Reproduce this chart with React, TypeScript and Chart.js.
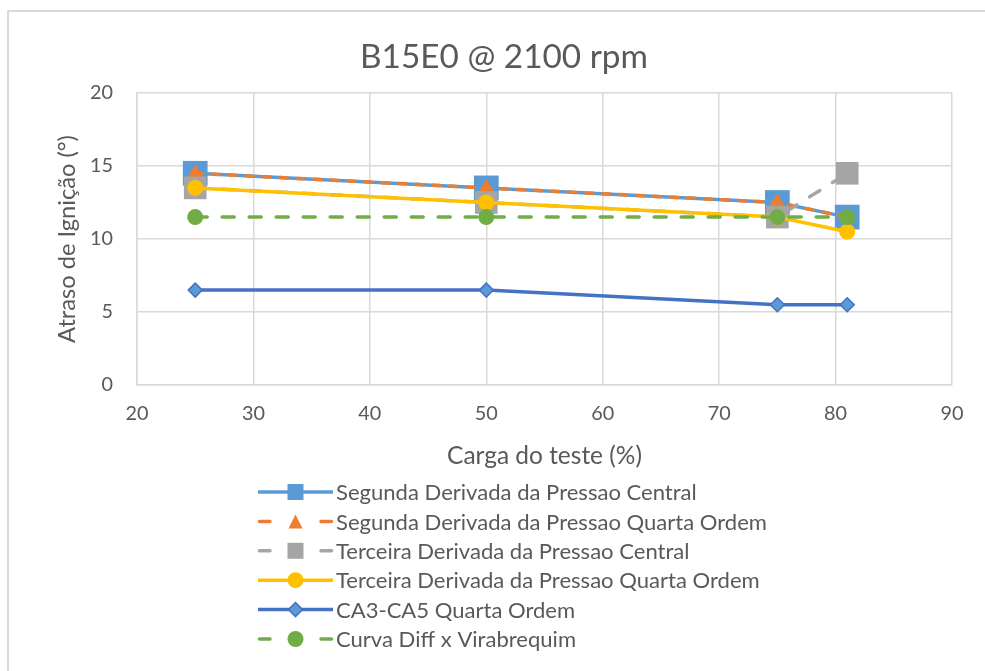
import React, { useEffect, useRef } from 'react';
import { Chart, registerables } from 'chart.js';

Chart.register(...registerables);

// ---------- data ----------
const loads = [25, 50, 75, 81];
const segundaCentral = [14.5, 13.5, 12.5, 11.5];
const segundaQuarta = [14.5, 13.5, 12.5, 11.5];
const terceiraCentral = [13.5, 12.5, 11.5, 14.5];
const terceiraQuarta = [13.5, 12.5, 11.5, 10.5];
const ca3ca5Quarta = [6.5, 6.5, 5.5, 5.5];
const curvaDiff = [11.5, 11.5, 11.5, 11.5];

const seriesNames = [
  'Segunda Derivada da Pressao Central',
  'Segunda Derivada da Pressao Quarta Ordem',
  'Terceira Derivada da Pressao Central',
  'Terceira Derivada da Pressao Quarta Ordem',
  'CA3-CA5 Quarta Ordem',
  'Curva Diff x Virabrequim',
];

const xMin = 20;
const xMax = 90;
const xStep = 10;
const yMin = 0;
const yMax = 20;
const yStep = 5;

const chartTitle = 'B15E0 @ 2100 rpm';
const xTitle = 'Carga do teste (%)';
const yTitle = 'Atraso de Ignição (°)';

const FAMILY = 'Lato, "Open Sans", sans-serif';
const TEXT = '#595959';
const GRID = '#d9d9d9';

function fitSize(text: string, target: number): number {
  const c = document.createElement('canvas').getContext('2d')!;
  c.font = `100px ${FAMILY}`;
  const w = c.measureText(text).width;
  return (100 * target) / w;
}

type Style = {
  color: string;
  pointFill: string;
  pointBorder: string;
  dash: number[];
  style: string;
  radius: number;
  legendSize: number;
};

const styles: Style[] = [
  { color: '#5B9BD5', pointFill: '#5B9BD5', pointBorder: '#5B9BD5', dash: [], style: 'rect', radius: 17.5, legendSize: 16 },
  { color: '#ED7D31', pointFill: '#ED7D31', pointBorder: '#ED7D31', dash: [7, 10], style: 'triangle', radius: 9, legendSize: 14 },
  { color: '#A5A5A5', pointFill: '#A5A5A5', pointBorder: '#A5A5A5', dash: [12, 15], style: 'rect', radius: 16, legendSize: 16 },
  { color: '#FFC000', pointFill: '#FFC000', pointBorder: '#FFC000', dash: [], style: 'circle', radius: 8, legendSize: 16 },
  { color: '#4472C4', pointFill: '#5B9BD5', pointBorder: '#4472C4', dash: [], style: 'rectRot', radius: 7, legendSize: 14 },
  { color: '#70AD47', pointFill: '#70AD47', pointBorder: '#70AD47', dash: [12, 15], style: 'circle', radius: 8, legendSize: 16 },
];

const seriesValues = [segundaCentral, segundaQuarta, terceiraCentral, terceiraQuarta, ca3ca5Quarta, curvaDiff];

function drawMarker(ctx: CanvasRenderingContext2D, shape: string, x: number, y: number, size: number) {
  ctx.beginPath();
  const h = size / 2;
  if (shape === 'rect') {
    ctx.rect(x - h, y - h, size, size);
  } else if (shape === 'triangle') {
    ctx.moveTo(x, y - h);
    ctx.lineTo(x + h, y + h);
    ctx.lineTo(x - h, y + h);
    ctx.closePath();
  } else if (shape === 'circle') {
    ctx.arc(x, y, h, 0, Math.PI * 2);
  } else if (shape === 'rectRot') {
    ctx.moveTo(x, y - h);
    ctx.lineTo(x + h, y);
    ctx.lineTo(x, y + h);
    ctx.lineTo(x - h, y);
    ctx.closePath();
  }
  ctx.fill();
}

export default function App() {
  const ref = useRef<HTMLCanvasElement>(null);

  useEffect(() => {
    const canvas = ref.current!;
    const titleSize = fitSize(chartTitle, 288);
    const legendSize = fitSize(seriesNames[0], 361);
    const xTitleSize = fitSize(xTitle, 195);
    const yTitleSize = fitSize(yTitle, 208);
    const tickSize = fitSize('20', 23);

    const decorPlugin = {
      id: 'decor',
      afterDraw(chart: any) {
        const ctx: CanvasRenderingContext2D = chart.ctx;
        const area = chart.chartArea;
        ctx.save();
        ctx.fillStyle = TEXT;
        ctx.textBaseline = 'middle';
        ctx.textAlign = 'center';
        ctx.font = `${titleSize}px ${FAMILY}`;
        ctx.fillText(chartTitle, 504, 57);
        ctx.font = `${xTitleSize}px ${FAMILY}`;
        ctx.fillText(xTitle, (area.left + area.right) / 2, 456);
        ctx.save();
        ctx.translate(67, (area.top + area.bottom) / 2);
        ctx.rotate(-Math.PI / 2);
        ctx.font = `${yTitleSize}px ${FAMILY}`;
        ctx.fillText(yTitle, 0, 0);
        ctx.restore();

        // legend
        const lx0 = 258;
        const lx1 = 333;
        const mid = (lx0 + lx1) / 2;
        ctx.textAlign = 'left';
        ctx.font = `${legendSize}px ${FAMILY}`;
        seriesNames.forEach((name, i) => {
          const st = styles[i];
          const y = 492 + i * 29.4;
          ctx.strokeStyle = st.color;
          ctx.lineWidth = 3.5;
          ctx.lineCap = st.dash.length ? 'round' : 'butt';
          ctx.beginPath();
          if (st.dash.length) {
            ctx.moveTo(lx0 + 1.5, y);
            ctx.lineTo(lx0 + 12, y);
            ctx.moveTo(lx1 - 12, y);
            ctx.lineTo(lx1 - 1.5, y);
          } else {
            ctx.moveTo(lx0, y);
            ctx.lineTo(lx1, y);
          }
          ctx.stroke();
          ctx.fillStyle = st.pointFill;
          drawMarker(ctx, st.style, mid, y, st.legendSize);
          if (st.style === 'rectRot') {
            ctx.strokeStyle = st.pointBorder;
            ctx.lineWidth = 1.5;
            ctx.stroke();
          }
          ctx.fillStyle = TEXT;
          ctx.fillText(name, 336, y + 1);
        });
        ctx.restore();
      },
    };

    const datasets = seriesValues.map((vals, i) => {
      const st = styles[i];
      return {
        label: seriesNames[i],
        data: loads.map((x, j) => ({ x, y: vals[j] })),
        borderColor: st.color,
        backgroundColor: st.pointFill,
        borderWidth: 3.5,
        borderDash: st.dash,
        borderCapStyle: st.dash.length ? 'round' : 'butt',
        pointStyle: st.style,
        pointRadius: st.radius,
        pointHoverRadius: st.radius,
        pointBackgroundColor: st.pointFill,
        pointBorderColor: st.pointBorder,
        pointBorderWidth: st.style === 'rectRot' ? 1.5 : 0,
        tension: 0,
        fill: false,
        order: seriesNames.length - i,
      };
    });

    const chart = new Chart(canvas, {
      type: 'line',
      data: { datasets } as any,
      plugins: [decorPlugin],
      options: {
        responsive: false,
        animation: false,
        layout: { padding: { top: 93, right: 33, left: 0, bottom: 0 } },
        plugins: {
          legend: { display: false },
          title: { display: false },
          tooltip: { enabled: false },
        },
        scales: {
          x: {
            type: 'linear',
            min: xMin,
            max: xMax,
            afterFit: (s: any) => {
              s.height = 671 - 385;
            },
            ticks: {
              stepSize: xStep,
              color: TEXT,
              font: { family: FAMILY, size: tickSize },
              padding: 17,
              maxRotation: 0,
            },
            grid: { color: GRID, lineWidth: 1.5, drawTicks: false, tickLength: 0 },
            border: { color: GRID, width: 1.5 },
          },
          y: {
            type: 'linear',
            min: yMin,
            max: yMax,
            afterFit: (s: any) => {
              s.width = 137;
            },
            ticks: {
              stepSize: yStep,
              color: TEXT,
              font: { family: FAMILY, size: tickSize },
              padding: 24,
            },
            grid: { color: GRID, lineWidth: 1.5, drawTicks: false, tickLength: 0 },
            border: { color: GRID, width: 1.5 },
          },
        },
      } as any,
    });
    return () => chart.destroy();
  }, []);

  return (
    <div style={{ position: 'fixed', left: 0, top: 0, width: 985, height: 671, background: '#fff', overflow: 'hidden' }}>
      <div
        style={{
          position: 'absolute',
          left: 7,
          top: 10,
          width: 1000,
          height: 700,
          border: '2px solid #d9d9d9',
          boxSizing: 'border-box',
        }}
      />
      <canvas ref={ref} width={985} height={671} style={{ position: 'absolute', left: 0, top: 0 }} />
    </div>
  );
}
